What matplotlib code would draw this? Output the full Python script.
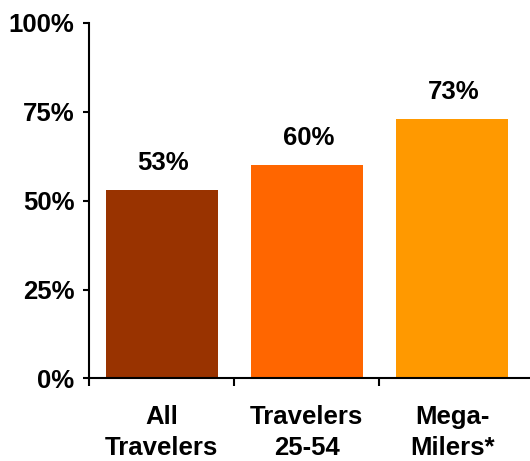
import matplotlib
matplotlib.use("Agg")
import matplotlib.pyplot as plt

# ── data ──────────────────────────────────────────────────────────────────
categories = ["All\nTravelers", "Travelers\n25-54", "Mega-\nMilers*"]
values = [53, 60, 73]
bar_colors = ["#993300", "#FF6600", "#FF9900"]
y_ticks = [0, 25, 50, 75, 100]
y_tick_labels = ["0%", "25%", "50%", "75%", "100%"]

plt.rcParams["font.family"] = ["Liberation Sans", "DejaVu Sans"]
plt.rcParams["font.weight"] = "bold"

FS = 18.5

fig = plt.figure(figsize=(5.30, 4.61), dpi=100)
ax = fig.add_axes([0.168, 0.179, 0.822, 0.772])

x = range(len(categories))
ax.bar(x, values, width=0.77, color=bar_colors, zorder=2)

for xi, v in zip(x, values):
    ax.annotate(f"{v}%", xy=(xi, v), xytext=(1, 14.5), textcoords="offset points",
                ha="center", va="baseline", fontsize=FS, fontweight="bold")

ax.set_xlim(-0.5, 2.5)
ax.set_ylim(0, 100)
ax.set_yticks(y_ticks)
ax.set_yticklabels(y_tick_labels, fontsize=FS, fontweight="bold")

# x ticks sit on the category boundaries, labels centred under the bars
ax.set_xticks([-0.5, 0.5, 1.5])
ax.set_xticklabels([])
ax.set_xticks(list(x), minor=True)
ax.set_xticklabels(categories, minor=True, fontsize=FS, fontweight="bold",
                   linespacing=1.4)
ax.tick_params(axis="x", which="minor", length=0, pad=19)
ax.tick_params(axis="x", which="major", length=6, width=1.5, direction="out")
ax.tick_params(axis="y", length=4.5, width=1.5, direction="out", pad=6)

for side in ["top", "right"]:
    ax.spines[side].set_visible(False)
for side in ["left", "bottom"]:
    ax.spines[side].set_linewidth(1.5)
ax.spines["bottom"].set_bounds(-0.5, 2.55)
ax.spines["bottom"].set_clip_on(False)

fig.savefig("out.png", dpi=100, facecolor="white")
